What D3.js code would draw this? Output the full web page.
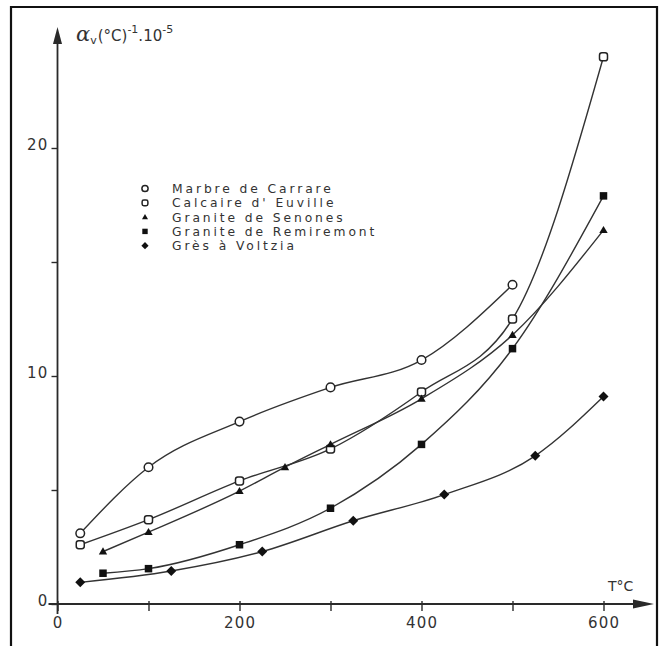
<!DOCTYPE html>
<html>
<head>
<meta charset="utf-8">
<script src="https://cdn.jsdelivr.net/npm/d3@7"></script>
<style>
  html, body { margin: 0; padding: 0; background: #fff; }
  svg { display: block; }
  text { font-family: "DejaVu Sans", sans-serif; fill: #333; }
</style>
</head>
<body>
<svg id="chart" width="663" height="646"></svg>
<script>
// Thermal expansion coefficient vs temperature, five rock types
const marbreT = [25, 100, 200, 300, 400, 500];
const marbreV = [3.1, 6.0, 8.0, 9.5, 10.7, 14.0];

const calcaireT = [25, 100, 200, 300, 400, 500, 600];
const calcaireV = [2.6, 3.7, 5.4, 6.8, 9.3, 12.5, 24.0];

const senonesT = [50, 100, 200, 250, 300, 400, 500, 600];
const senonesV = [2.3, 3.15, 4.95, 6.0, 7.0, 9.0, 11.8, 16.4];

const remiremontT = [50, 100, 200, 300, 400, 500, 600];
const remiremontV = [1.35, 1.55, 2.6, 4.2, 7.0, 11.2, 17.9];

const gresT = [25, 125, 225, 325, 425, 525, 600];
const gresV = [0.95, 1.45, 2.3, 3.65, 4.8, 6.5, 9.1];

const seriesNames = ["Marbre de Carrare", "Calcaire d' Euville", "Granite de Senones",
                     "Granite de Remiremont", "Grès à Voltzia"];
const seriesSymbols = ["circle", "openSquare", "triangle", "square", "diamond"];

const xTicks = [0, 100, 200, 300, 400, 500, 600];
const xTickLabels = ["0", "", "200", "", "400", "", "600"];
const yTicks = [0, 5, 10, 15, 20];
const yTickLabels = ["0", "", "10", "", "20"];

const series = [
  { name: seriesNames[0], sym: seriesSymbols[0], t: marbreT, v: marbreV },
  { name: seriesNames[1], sym: seriesSymbols[1], t: calcaireT, v: calcaireV },
  { name: seriesNames[2], sym: seriesSymbols[2], t: senonesT, v: senonesV },
  { name: seriesNames[3], sym: seriesSymbols[3], t: remiremontT, v: remiremontV },
  { name: seriesNames[4], sym: seriesSymbols[4], t: gresT, v: gresV }
];

const svg = d3.select("#chart");
const ink = "#2a2a2a";

const x = d3.scaleLinear().domain([0, 600]).range([57.5, 603.5]);
const y = d3.scaleLinear().domain([0, 20]).range([604, 148]);

// outer frame
svg.append("path")
  .attr("d", "M11,660 L11,7 L657,7 L657,660")
  .attr("fill", "none").attr("stroke", "#111").attr("stroke-width", 2.2);

// x axis
const xAxis = d3.axisBottom(x).tickValues(xTicks)
  .tickFormat((d, i) => xTickLabels[i]).tickSize(7).tickPadding(6);
const gx = svg.append("g").attr("transform", `translate(0,${y(0)})`).call(xAxis);
gx.select(".domain").remove();
gx.selectAll(".tick line").attr("stroke", ink).attr("stroke-width", 1.4).attr("y1", -3);
gx.selectAll(".tick text").attr("font-size", 15).attr("letter-spacing", 1.2)
  .attr("fill", "#333").attr("font-family", "DejaVu Sans, sans-serif");

// y axis
const yAxis = d3.axisLeft(y).tickValues(yTicks)
  .tickFormat((d, i) => yTickLabels[i]).tickSize(6).tickPadding(3);
const gy = svg.append("g").attr("transform", `translate(${x(0)},0)`).call(yAxis);
gy.select(".domain").remove();
gy.selectAll(".tick line").attr("stroke", ink).attr("stroke-width", 1.4);
gy.selectAll(".tick text").attr("font-size", 15).attr("letter-spacing", 1.2)
  .attr("dy", "0.1em").attr("fill", "#333").attr("font-family", "DejaVu Sans, sans-serif");

// axis lines with arrowheads
const x0 = x(0), y0 = y(0);
svg.append("line").attr("x1", x0 - 9).attr("x2", 640).attr("y1", y0).attr("y2", y0)
  .attr("stroke", ink).attr("stroke-width", 1.8);
svg.append("path").attr("d", `M633,${y0 - 4.5} L654,${y0} L633,${y0 + 4.5} Z`).attr("fill", ink);
svg.append("line").attr("x1", x0).attr("x2", x0).attr("y1", y0 + 10).attr("y2", 40)
  .attr("stroke", ink).attr("stroke-width", 1.8);
svg.append("path").attr("d", `M${x0 - 4.5},44 L${x0},27 L${x0 + 4.5},44 Z`).attr("fill", ink);

// axis titles
svg.append("text").attr("x", 608).attr("y", 591).attr("font-size", 14).text("T°C");
const yt = svg.append("text").attr("x", 76).attr("y", 41).attr("font-size", 15);
yt.append("tspan").attr("font-family", "DejaVu Serif, serif").attr("font-style", "italic")
  .attr("font-size", 21).text("α");
yt.append("tspan").attr("font-size", 11).attr("dy", 3).text("v");
yt.append("tspan").attr("dy", -3).attr("dx", 1).text("(°C)");
yt.append("tspan").attr("font-size", 11).attr("dy", -8).text("-1");
yt.append("tspan").attr("dy", 8).text(".10");
yt.append("tspan").attr("font-size", 11).attr("dy", -8).text("-5");

// smooth monotone curves through the measured points
const line = d3.line().x(d => x(d[0])).y(d => y(d[1])).curve(d3.curveMonotoneX);
series.forEach(s => {
  const pts = s.t.map((t, i) => [t, s.v[i]]);
  svg.append("path").attr("d", line(pts)).attr("fill", "none")
    .attr("stroke", "#333").attr("stroke-width", 1.4);
});

// marker drawer
function marker(g, sym, cx, cy, scale) {
  const k = scale || 1;
  if (sym === "circle") {
    g.append("circle").attr("cx", cx).attr("cy", cy).attr("r", 4.3 * k)
      .attr("fill", "#fff").attr("stroke", "#222").attr("stroke-width", 1.5);
  } else if (sym === "openSquare") {
    const s = 8 * k;
    g.append("rect").attr("x", cx - s / 2).attr("y", cy - s / 2).attr("width", s).attr("height", s)
      .attr("rx", 2.4 * k).attr("fill", "#fff").attr("stroke", "#222").attr("stroke-width", 1.5);
  } else if (sym === "triangle") {
    const r = 4.2 * k;
    g.append("path").attr("d", `M${cx},${cy - r} L${cx + r},${cy + r * 0.7} L${cx - r},${cy + r * 0.7} Z`)
      .attr("fill", "#111");
  } else if (sym === "square") {
    const s = 7.5 * k;
    g.append("rect").attr("x", cx - s / 2).attr("y", cy - s / 2).attr("width", s).attr("height", s)
      .attr("fill", "#111");
  } else if (sym === "diamond") {
    const r = 5 * k;
    g.append("path").attr("d", `M${cx},${cy - r} L${cx + r},${cy} L${cx},${cy + r} L${cx - r},${cy} Z`)
      .attr("fill", "#111");
  }
}

const gm = svg.append("g");
series.forEach(s => {
  s.t.forEach((t, i) => marker(gm, s.sym, x(t), y(s.v[i])));
});

// legend
const lg = svg.append("g");
series.forEach((s, i) => {
  const ly = 188.5 + i * 14.3;
  marker(lg, s.sym, 145, ly, 0.72);
  lg.append("text").attr("x", 172).attr("y", ly).attr("dy", "0.36em")
    .attr("font-size", 12.3).attr("letter-spacing", 2.9).attr("fill", "#3a3a3a").text(s.name);
});
</script>
</body>
</html>
